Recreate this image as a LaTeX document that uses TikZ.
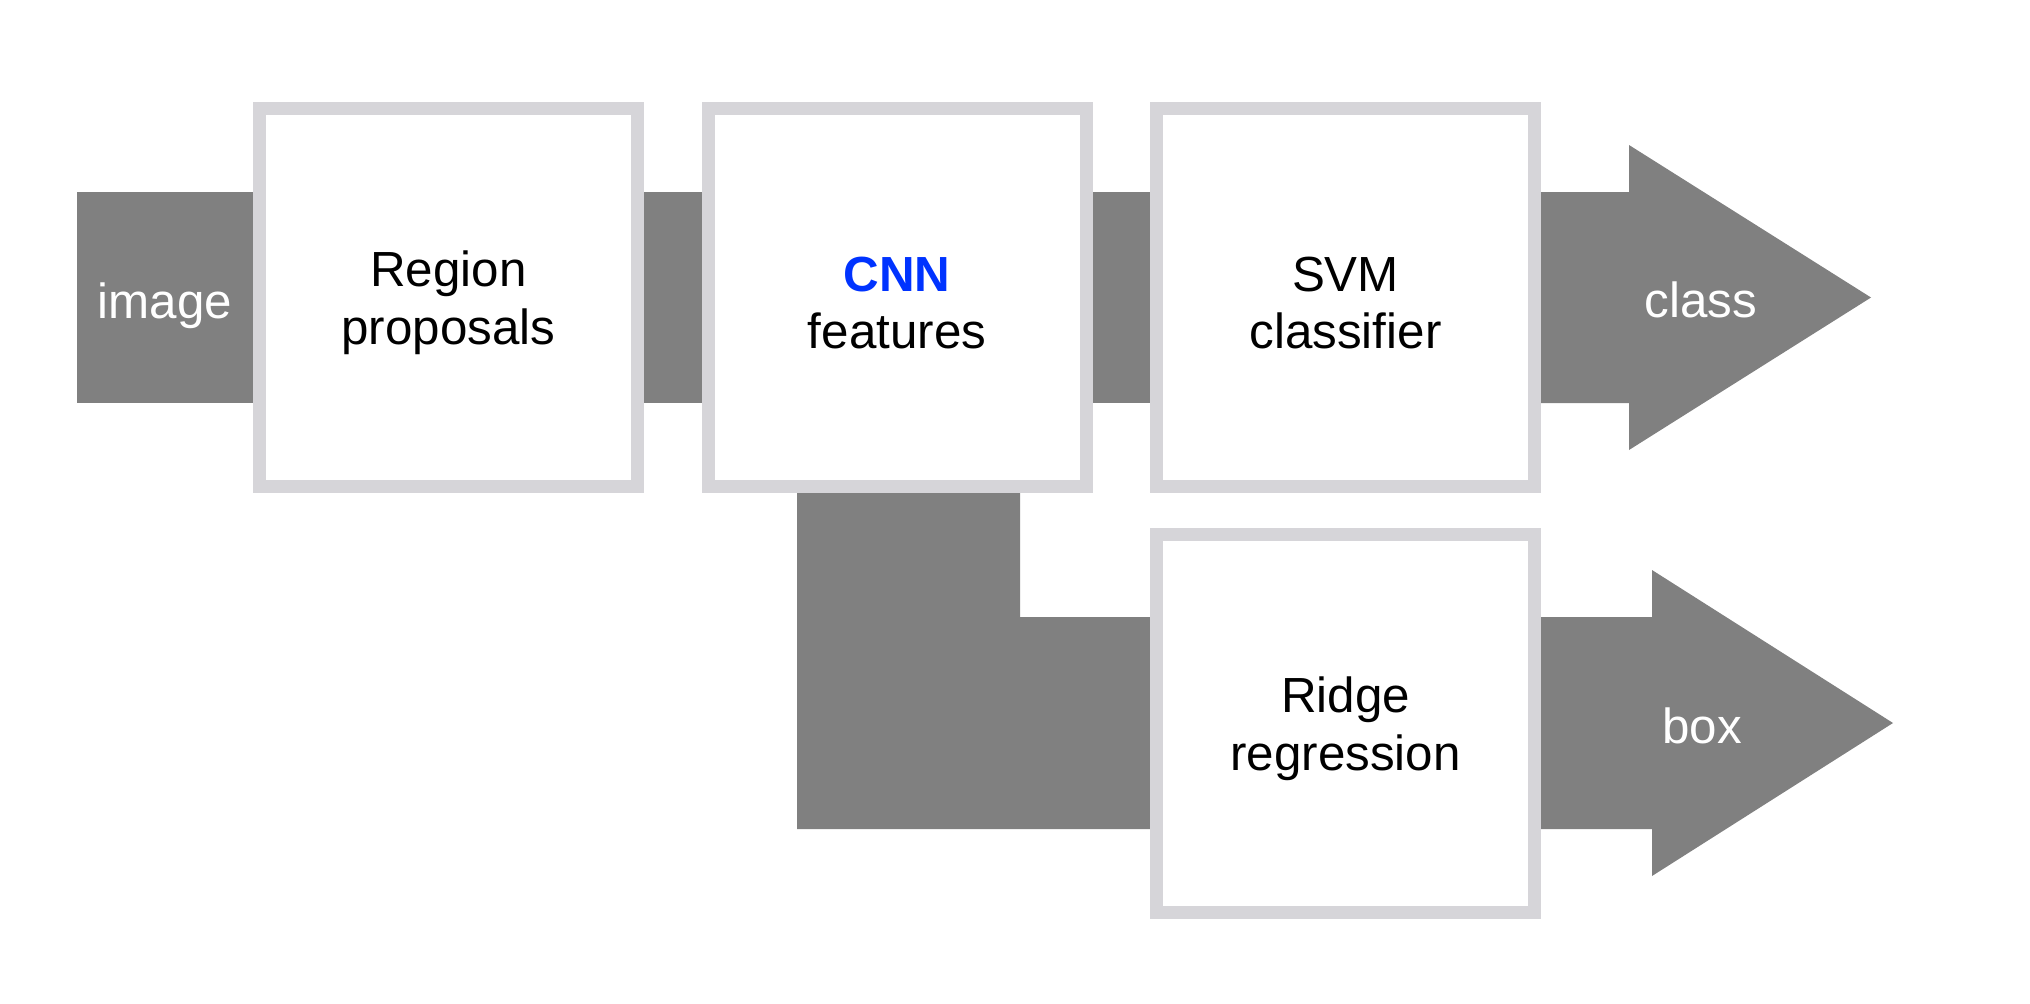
\documentclass[tikz,border=0pt]{standalone}
\usepackage{fontspec}
\setmainfont{Liberation Sans}
\usepackage{xcolor}
\usepackage{tikz}

\begin{document}
\begin{tikzpicture}[x=0.75pt,y=0.75pt,yscale=-1,xscale=1,
  bar/.style={fill={rgb, 255:red, 128; green, 128; blue, 128 }},
  stage/.style={draw={rgb, 255:red, 214; green, 213; blue, 217 }, line width=9.75pt, fill=white, minimum width=283.5pt, minimum height=283.5pt, inner sep=0pt},
  txt/.style={inner sep=0.75pt, align=center, font=\fontsize{37}{43}\selectfont},
  lbl/.style={color=white, inner sep=0.75pt, font=\fontsize{37}{43}\selectfont}]
\useasboundingbox (0,0) rectangle (2030,1003);

%Shape: Rectangle [image bar]
\fill [bar] (77,192) -- (260,192) -- (260,403) -- (77,403) -- cycle ;
%Shape: Rectangle [region to cnn]
\fill [bar] (640,192) -- (705,192) -- (705,403) -- (640,403) -- cycle ;
%Shape: Rectangle [cnn to svm]
\fill [bar] (1088,192) -- (1155,192) -- (1155,403) -- (1088,403) -- cycle ;
%Shape: Arrow [class]
\fill [bar] (1536,192) -- (1629,192) -- (1629,145) -- (1871,297.5) -- (1629,450) -- (1629,403) -- (1536,403) -- cycle ;
%Shape: L [cnn to ridge]
\fill [bar] (797,488) -- (1020,488) -- (1020,617) -- (1155,617) -- (1155,829) -- (797,829) -- cycle ;
%Shape: Arrow [box]
\fill [bar] (1536,617) -- (1652,617) -- (1652,570) -- (1893,723) -- (1652,876) -- (1652,829) -- (1536,829) -- cycle ;

% Stage boxes
\node [stage] (region) at (448.5,297.5) {};
\node [stage] (cnn) at (897,297.5) {};
\node [stage] (svm) at (1345.5,297.5) {};
\node [stage] (ridge) at (1345.5,723.5) {};

% Text Node
\node [txt] (regiontxt) at ([yshift=4pt]region.center) {Region\\proposals};
% Text Node
\node [txt] (cnntxt) at ([yshift=4pt]cnn.center) {{\color[RGB]{0,51,255}\bfseries CNN}\\features};
% Text Node
\node [txt] (svmtxt) at ([yshift=4pt]svm.center) {SVM\\classifier};
% Text Node
\node [txt] (ridgetxt) at ([yshift=4pt]ridge.center) {Ridge\\regression};
% Text Node
\node [lbl] (image) at (165,306) {image};
% Text Node
\node [lbl] (class) at (1701,300) {class};
% Text Node
\node [lbl] (box) at (1702,726) {box};

\end{tikzpicture}
\end{document}
